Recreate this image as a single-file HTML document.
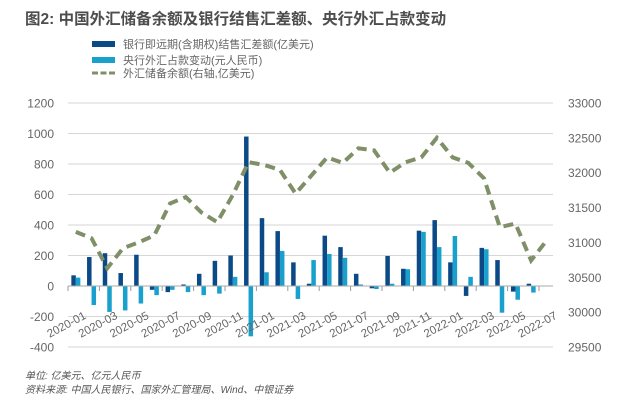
<!DOCTYPE html>
<html><head><meta charset="utf-8">
<style>
body{margin:0;background:#fff;}
svg{display:block;font-family:"Liberation Sans","Noto Sans CJK SC",sans-serif;}
</style></head>
<body>
<svg id="s" width="640" height="405" viewBox="0 0 640 405" xmlns="http://www.w3.org/2000/svg">
<text x="25" y="24" font-size="15.5" font-weight="bold" fill="#4d4d4d">图2: 中国外汇储备余额及银行结售汇差额、央行外汇占款变动</text>
<rect x="92" y="41" width="23" height="6" fill="#0b4a87"/>
<text x="123" y="48" font-size="11" fill="#666">银行即远期(含期权)结售汇差额(亿美元)</text>
<rect x="92" y="57" width="23" height="6" fill="#1aa0cc"/>
<text x="123" y="64" font-size="11" fill="#666">央行外汇占款变动(元人民币)</text>
<line x1="92" y1="73" x2="115" y2="73" stroke="#7f9068" stroke-width="3" stroke-dasharray="6,2.5"/>
<text x="123" y="77" font-size="11" fill="#666">外汇储备余额(右轴,亿美元)</text>
<text x="25" y="379" font-size="10" font-style="italic" fill="#555">单位: 亿美元、亿元人民币</text>
<text x="25" y="393" font-size="10" font-style="italic" fill="#555">资料来源: 中国人民银行、国家外汇管理局、Wind、中银证券</text>
<g id="g"></g>
</svg>
<script>
var g=document.getElementById('g'),h='';
var y0=286,k=0.1525;
function yl(v){return y0-v*k;}
function yr(v){return 103+(33000-v)*0.0697;}
for(var v=1200;v>=-400;v-=200){var y=yl(v);
 if(v!=0)h+='<line x1="68" x2="553" y1="'+y+'" y2="'+y+'" stroke="#d6d6d6" stroke-width="1"/>';
 h+='<text x="54" y="'+(y+4.5)+'" font-size="12" fill="#666" text-anchor="end">'+v+'</text>';}
for(var r=33000;r>=29500;r-=500){h+='<text x="568" y="'+(yr(r)+4.5)+'" font-size="12" fill="#666">'+r+'</text>';}
var d=[70,190,215,85,205,-25,-40,10,80,165,200,980,445,360,155,15,330,255,80,-15,197,113,363,432,155,-65,250,170,-37,15,null];
var l=[55,-125,-170,-160,-115,-60,-25,-40,-60,-50,60,-330,90,230,-85,170,210,185,10,-20,15,110,355,255,328,60,241,-175,-90,-43,null];
var ln=[31150,31060,30630,30915,31000,31100,31560,31650,31430,31290,31680,32150,32110,32040,31700,31960,32220,32140,32350,32320,32000,32150,32220,32500,32220,32140,31920,31220,31270,30740,31030];
var st=15.7,x0=68,pts=[];
var labs=['2020-01','2020-03','2020-05','2020-07','2020-09','2020-11','2021-01','2021-03','2021-05','2021-07','2021-09','2021-11','2022-01','2022-03','2022-05','2022-07'];
for(var i=0;i<31;i++){var c=x0+st*(i+0.5);
 if(d[i]!=null){var a=yl(d[i]);h+='<rect x="'+(c-4.5)+'" width="4.5" y="'+Math.min(a,y0)+'" height="'+Math.abs(a-y0)+'" fill="#0b4a87"/>';
 var b=yl(l[i]);h+='<rect x="'+c+'" width="4.5" y="'+Math.min(b,y0)+'" height="'+Math.abs(b-y0)+'" fill="#1aa0cc"/>';}
 pts.push(c.toFixed(1)+','+yr(ln[i]).toFixed(1));
 if(i%2==0){var tx=x0+st*i;h+='<line x1="'+tx+'" x2="'+tx+'" y1="286" y2="291" stroke="#999"/>';
  h+='<text font-size="11.5" fill="#666" text-anchor="end" transform="translate('+(c+11)+',318) rotate(-28)">'+labs[i/2]+'</text>';}
}
h+='<line x1="68" x2="553" y1="286" y2="286" stroke="#aaa"/>';
h+='<polyline points="'+pts.join(' ')+'" fill="none" stroke="#7f9068" stroke-width="4" stroke-dasharray="10,6"/>';
g.innerHTML=h;
</script>
</body></html>
